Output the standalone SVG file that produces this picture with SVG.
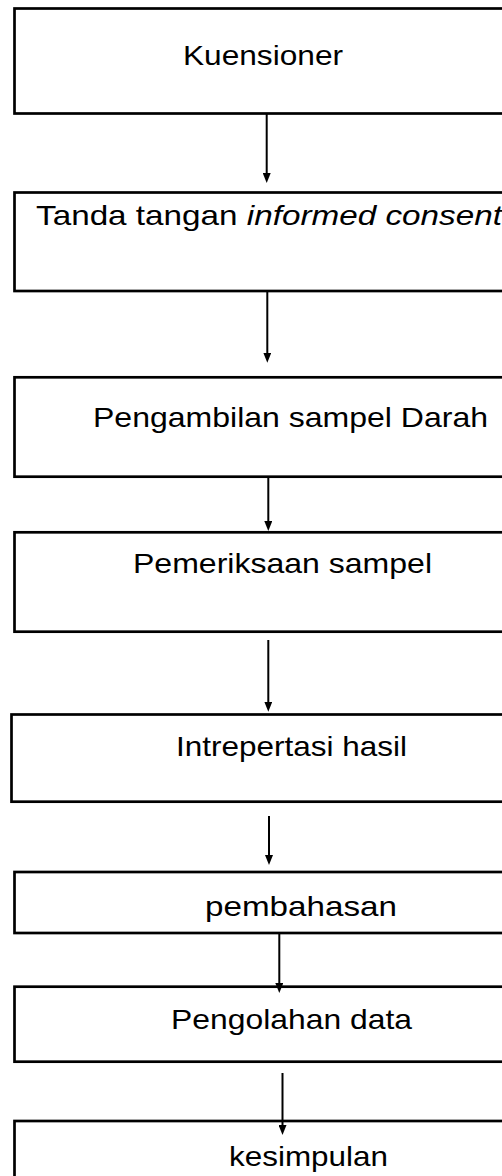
<svg xmlns="http://www.w3.org/2000/svg" width="502" height="1176" viewBox="0 0 502 1176">
<style>
.box{fill:#fff;stroke:#000;stroke-width:2.7}
.lbl{font-family:"Liberation Sans",Arial,sans-serif;font-size:28px;fill:#000}
.conn{stroke:#000;stroke-width:2;fill:none}
</style>
<defs>
<marker id="ah" viewBox="0 0 10 8" refX="5" refY="4" markerWidth="10" markerHeight="8" markerUnits="userSpaceOnUse" orient="auto">
<path d="M0,0 L10,4 L0,8 z" fill="#000"/>
</marker>
</defs>
<rect width="502" height="1176" fill="#fff"/>
<g id="n1"><rect class="box" x="14.5" y="8.5" width="520" height="105"/>
<text class="lbl" x="183" y="65" textLength="160" lengthAdjust="spacingAndGlyphs">Kuensioner</text></g>
<g id="n2"><rect class="box" x="14.5" y="192.5" width="520" height="98.5"/>
<text class="lbl" x="36" y="225" textLength="466" lengthAdjust="spacingAndGlyphs">Tanda tangan <tspan font-style="italic">informed consent</tspan></text></g>
<g id="n3"><rect class="box" x="14.5" y="377.3" width="520" height="99.4"/>
<text class="lbl" x="93" y="427" textLength="395" lengthAdjust="spacingAndGlyphs">Pengambilan sampel Darah</text></g>
<g id="n4"><rect class="box" x="14.5" y="532.3" width="520" height="99.4"/>
<text class="lbl" x="133" y="573" textLength="299" lengthAdjust="spacingAndGlyphs">Pemeriksaan sampel</text></g>
<g id="n5"><rect class="box" x="11.5" y="714.5" width="520" height="87.2"/>
<text class="lbl" x="176" y="756" textLength="231" lengthAdjust="spacingAndGlyphs">Intrepertasi hasil</text></g>
<g id="n6"><rect class="box" x="14.5" y="872" width="520" height="61"/>
<text class="lbl" x="205" y="916" textLength="192" lengthAdjust="spacingAndGlyphs">pembahasan</text></g>
<g id="n7"><rect class="box" x="14.5" y="986.7" width="520" height="75"/>
<text class="lbl" x="171" y="1029" textLength="241" lengthAdjust="spacingAndGlyphs">Pengolahan data</text></g>
<g id="n8"><rect class="box" x="14.5" y="1121" width="520" height="80"/>
<text class="lbl" x="229" y="1166" textLength="159" lengthAdjust="spacingAndGlyphs">kesimpulan</text></g>
<g id="connectors">
<path class="conn" d="M266.7,113.7 V178" marker-end="url(#ah)"/>
<path class="conn" d="M267.3,291 V357.7" marker-end="url(#ah)"/>
<path class="conn" d="M268.3,476.7 V526" marker-end="url(#ah)"/>
<path class="conn" d="M268.3,640 V706.7" marker-end="url(#ah)"/>
<path class="conn" d="M269,816 V860" stroke-width="3" marker-end="url(#ah)"/>
<path class="conn" d="M279.3,933 V988" marker-end="url(#ah)"/>
<path class="conn" d="M282.5,1073 V1130" marker-end="url(#ah)"/>
</g>
</svg>
